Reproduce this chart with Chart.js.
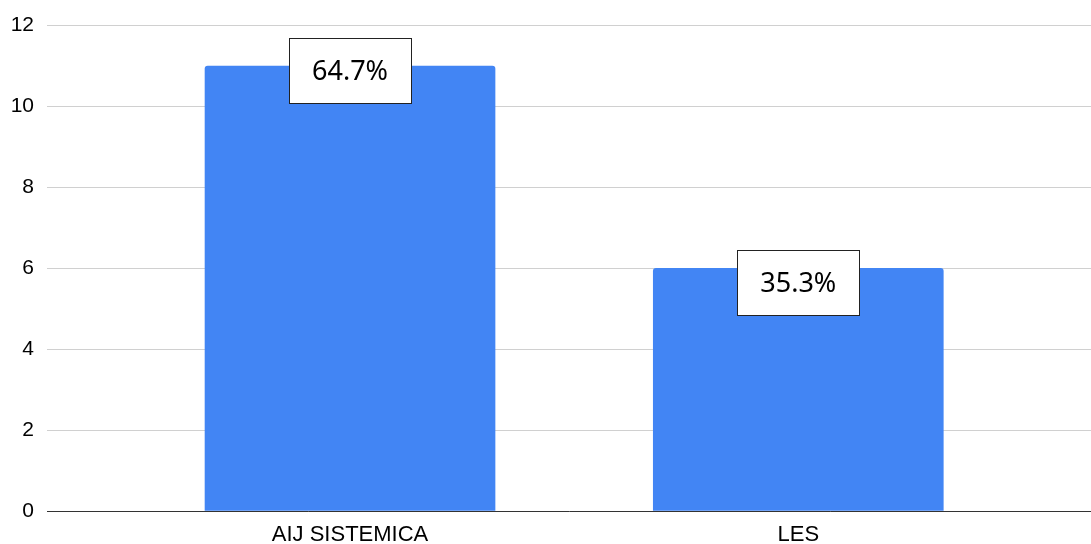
<!DOCTYPE html>
<html>
<head>
<meta charset="utf-8">
<script src="https://cdn.jsdelivr.net/npm/chart.js@4"></script>
<style>
  html, body { margin: 0; padding: 0; background: #fff; }
  #wrap { width: 1091px; height: 544px; }
</style>
</head>
<body>
<div id="wrap"><canvas id="myBarChart"></canvas></div>
<script>
// chart data
var categories = ["AIJ SISTEMICA", "LES"];
var values = [11, 6];
var yTicks = [0, 2, 4, 6, 8, 10, 12];

var total = values.reduce(function(a, b) { return a + b; }, 0);
var pctLabels = values.map(function(v) {
  return (v / total * 100).toFixed(1) + "%";
});

// label boxes sit around the top of each bar
var boxOffsets = [4, 14];

var boxLabels = {
  id: "boxLabels",
  afterDatasetsDraw: function(chart) {
    var ctx = chart.ctx;
    var meta = chart.getDatasetMeta(0);
    ctx.save();
    ctx.font = "27px 'Noto Sans'";
    ctx.textAlign = "center";
    ctx.textBaseline = "middle";
    meta.data.forEach(function(bar, i) {
      var txt = pctLabels[i];
      var w = Math.round(ctx.measureText(txt).width + 46);
      var h = 65;
      var left = Math.round(bar.x - w / 2) + 0.5;
      var top = Math.round(bar.y + boxOffsets[i] - h / 2) + 0.5;
      ctx.fillStyle = "#fff";
      ctx.fillRect(left, top, w, h);
      ctx.strokeStyle = "#222";
      ctx.lineWidth = 1;
      ctx.strokeRect(left, top, w, h);
      ctx.fillStyle = "#000";
      ctx.fillText(txt, bar.x, top + h / 2 + 1);
    });
    ctx.restore();
  }
};

var ctx = document.getElementById("myBarChart");
var myBarChart = new Chart(ctx, {
  type: "bar",
  data: {
    datasets: [
      {
        data: values.map(function(v, i) { return { x: i, y: v }; }),
        backgroundColor: "#4285F4",
        barThickness: 290,
        borderRadius: { topLeft: 3, topRight: 3, bottomLeft: 0, bottomRight: 0 },
        borderSkipped: "start"
      }
    ]
  },
  options: {
    responsive: true,
    maintainAspectRatio: false,
    animation: false,
    layout: { padding: { top: 24, right: 0, left: 0, bottom: 0 } },
    plugins: {
      legend: { display: false },
      tooltip: { enabled: false }
    },
    scales: {
      x: {
        type: "linear",
        offset: false,
        bounds: "data",
        min: -0.676,
        max: 1.653,
        afterBuildTicks: function(axis) {
          axis.ticks = categories.map(function(c, i) { return { value: i }; });
        },
        afterFit: function(axis) { axis.height = 33; },
        grid: { display: false, drawTicks: false },
        border: { display: true, color: "#333", width: 1 },
        ticks: {
          padding: 11,
          color: "#000",
          font: { family: "'Liberation Sans', Arial, sans-serif", size: 22 },
          maxRotation: 0,
          callback: function(v) { return categories[v]; }
        }
      },
      y: {
        min: 0,
        max: 12,
        afterBuildTicks: function(axis) {
          axis.ticks = yTicks.map(function(v) { return { value: v }; });
        },
        afterFit: function(axis) { axis.width = 47; },
        grid: { color: "#d0d0d0", lineWidth: 1, drawTicks: false },
        border: { display: false },
        ticks: {
          padding: 13,
          color: "#000",
          font: { family: "'Liberation Sans', Arial, sans-serif", size: 21 }
        }
      }
    }
  },
  plugins: [boxLabels]
});
</script>
</body>
</html>
